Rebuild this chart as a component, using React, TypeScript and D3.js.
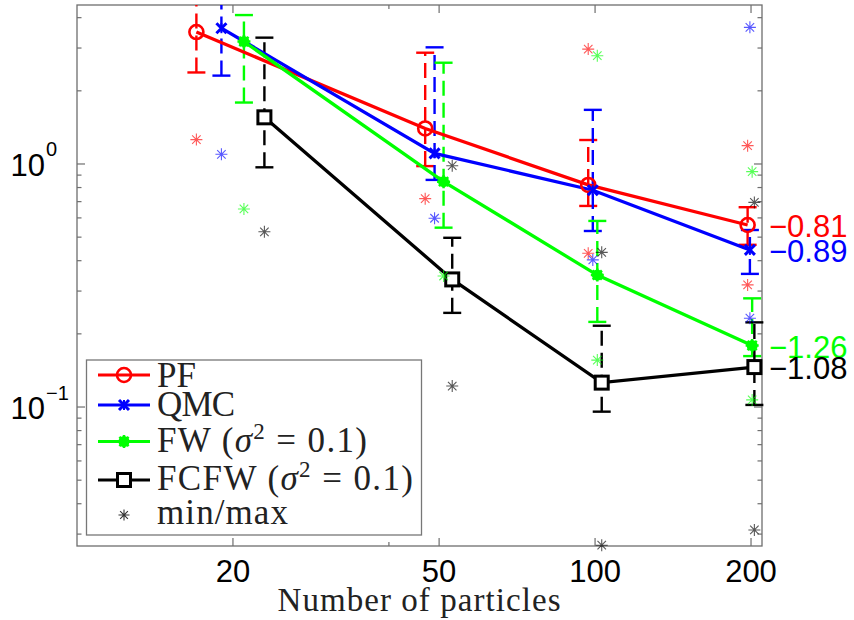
import React from "react";
import * as d3 from "d3";

const particleCounts = [20, 50, 100, 200];
const xOffsets = [-3, -1, 1, 3];
const seriesNames = ["PF", "QMC", "FW", "FCFW"];
const seriesColors = ["#ff0000", "#0000ff", "#00ff00", "#000000"];
const seriesMarkers = ["circle", "cross", "dot", "square"];

const pfMean = [3.49, 1.4, 0.82, 0.561];
const pfUpper = [5.6, 2.87, 1.255, 0.664];
const pfLower = [2.38, 0.98, 0.672, 0.465];
const pfMin = [1.26, 0.72, 0.429, 0.318];
const pfMax = [null, null, 2.97, 1.19];

const qmcMean = [3.62, 1.106, 0.78, 0.443];
const qmcUpper = [5.8, 3.02, 1.67, 0.535];
const qmcLower = [2.31, 0.86, 0.53, 0.353];
const qmcMin = [1.096, 0.598, 0.403, 0.232];
const qmcMax = [null, null, null, 3.65];

const fwMean = [3.19, 0.846, 0.349, 0.179];
const fwUpper = [4.1, 2.61, 0.583, 0.28];
const fwLower = [1.79, 0.547, 0.224, 0.162];
const fwMin = [0.653, 0.346, 0.156, 0.107];
const fwMax = [null, null, 2.79, 0.93];

const fcfwMean = [1.556, 0.335, 0.126, 0.146];
const fcfwUpper = [3.31, 0.497, 0.216, 0.223];
const fcfwLower = [0.969, 0.244, 0.0957, 0.102];
const fcfwMin = [0.526, 0.122, 0.027, 0.0312];
const fcfwMax = [null, 0.984, 0.433, 0.695];

const slopeLabels = ["\u22120.81", "\u22120.89", "\u22121.26", "\u22121.08"];
const xTickValues = [20, 50, 100, 200];
const xMinorTickValues = [40];
const yMajorTicks = [0.1, 1];
const yMajorLabels = ["\u22121", "0"];

const means = [pfMean, qmcMean, fwMean, fcfwMean];
const uppers = [pfUpper, qmcUpper, fwUpper, fcfwUpper];
const lowers = [pfLower, qmcLower, fwLower, fcfwLower];
const mins = [pfMin, qmcMin, fwMin, fcfwMin];
const maxs = [pfMax, qmcMax, fwMax, fcfwMax];

const W = 854;
const H = 620;
const L = 77;
const R = 762;
const T = 5;
const B = 546;
const axisColor = "#6e6e6e";

function starPath(cx: number, cy: number, r: number) {
  let d = "";
  for (let k = 0; k < 4; k++) {
    const a = (k * Math.PI) / 4;
    const dx = Math.cos(a) * r;
    const dy = Math.sin(a) * r;
    d += `M${cx - dx},${cy - dy}L${cx + dx},${cy + dy}`;
  }
  return d;
}

function Marker({ kind, x, y, color }: { kind: string; x: number; y: number; color: string }) {
  if (kind === "circle")
    return <circle cx={x} cy={y} r={7} fill="none" stroke={color} strokeWidth={2.6} />;
  if (kind === "cross")
    return (
      <g stroke={color} strokeWidth={3}>
        <path d={`M${x - 5},${y - 5}L${x + 5},${y + 5}M${x - 5},${y + 5}L${x + 5},${y - 5}`} />
        <path d={`M${x},${y - 5}L${x},${y + 5}`} strokeWidth={2} />
      </g>
    );
  if (kind === "dot")
    return (
      <g>
        <circle cx={x} cy={y} r={5.5} fill={color} />
        <path d={starPath(x, y, 6.5)} stroke={color} strokeWidth={2.5} />
      </g>
    );
  return <rect x={x - 6.5} y={y - 6.5} width={13} height={13} fill="white" stroke={color} strokeWidth={3} />;
}

export default function App() {
  const x = d3.scaleLog().domain([10, 210]).range([L, R]);
  const y = d3.scaleLog().domain([0.0268, 4.51]).range([B, T]);

  const yMinor: number[] = [];
  for (const dec of [0.01, 0.1, 1]) {
    for (let k = 2; k <= 9; k++) {
      const v = dec * k;
      if (v >= 0.0268 && v <= 4.51) yMinor.push(v);
    }
  }

  return (
    <svg width={W} height={H} style={{ position: "absolute", left: 0, top: 0, background: "white" }}>
      <defs>
        <clipPath id="plotclip">
          <rect x={L} y={T} width={R - L} height={B - T} />
        </clipPath>
      </defs>

      {/* axes box */}
      <rect x={L} y={T} width={R - L} height={B - T} fill="none" stroke={axisColor} strokeWidth={1.3} />

      {/* x ticks */}
      {xTickValues.map((v) => (
        <g key={"xt" + v} stroke={axisColor} strokeWidth={1.2}>
          <line x1={x(v)} x2={x(v)} y1={B} y2={B - 8} />
          <line x1={x(v)} x2={x(v)} y1={T} y2={T + 8} />
        </g>
      ))}
      {xMinorTickValues.map((v) => (
        <g key={"xm" + v} stroke={axisColor} strokeWidth={1.2}>
          <line x1={x(v)} x2={x(v)} y1={B} y2={B - 4} />
          <line x1={x(v)} x2={x(v)} y1={T} y2={T + 4} />
        </g>
      ))}
      {xTickValues.map((v) => (
        <text
          key={"xl" + v}
          x={x(v)}
          y={582}
          textAnchor="middle"
          fontFamily="Liberation Sans, Arial, sans-serif"
          fontSize={31}
          fill="#000"
        >
          {v}
        </text>
      ))}
      <text
        x={419}
        y={611}
        textAnchor="middle"
        fontFamily="Liberation Serif, Times New Roman, serif"
        fontSize={33}
        textLength={283}
        fill="#222"
      >
        Number of particles
      </text>

      {/* y ticks */}
      {yMajorTicks.map((v) => (
        <g key={"yt" + v} stroke={axisColor} strokeWidth={1.2}>
          <line x1={L} x2={L + 8} y1={y(v)} y2={y(v)} />
          <line x1={R} x2={R - 8} y1={y(v)} y2={y(v)} />
        </g>
      ))}
      {yMinor.map((v) => (
        <g key={"ym" + v} stroke={axisColor} strokeWidth={1.2}>
          <line x1={L} x2={L + 4.5} y1={y(v)} y2={y(v)} />
          <line x1={R} x2={R - 4.5} y1={y(v)} y2={y(v)} />
        </g>
      ))}
      {yMajorTicks.map((v, i) => (
        <g key={"yl" + v} fontFamily="Liberation Sans, Arial, sans-serif" fill="#000">
          <text x={45} y={y(v) + 12} textAnchor="end" fontSize={31}>
            10
          </text>
          <text x={46} y={y(v) - 7.5} textAnchor="start" fontSize={20}>
            {yMajorLabels[i]}
          </text>
        </g>
      ))}

      {/* error bars */}
      {means.map((_, s) => (
        <g key={"eb" + s} stroke={seriesColors[s]} strokeWidth={2.4} fill="none">
          {particleCounts.map((n, i) => {
            const xp = x(n + xOffsets[s]);
            const yu = y(uppers[s][i]);
            const yl = y(lowers[s][i]);
            return (
              <g key={i}>
                <line x1={xp} x2={xp} y1={yl} y2={yu} strokeDasharray="15 7" clipPath="url(#plotclip)" />
                {yu >= T && <line x1={xp - 9} x2={xp + 9} y1={yu} y2={yu} />}
                {yl <= B && <line x1={xp - 9} x2={xp + 9} y1={yl} y2={yl} />}
              </g>
            );
          })}
        </g>
      ))}

      {/* series lines */}
      {means.map((vals, s) => {
        const path = d3
          .line<number>()
          .x((_, i) => x(particleCounts[i] + xOffsets[s]))
          .y((d) => y(d))(vals);
        return <path key={"ln" + s} d={path || ""} fill="none" stroke={seriesColors[s]} strokeWidth={3.3} />;
      })}

      {/* markers */}
      {means.map((vals, s) => (
        <g key={"mk" + s}>
          {vals.map((v, i) => (
            <Marker key={i} kind={seriesMarkers[s]} x={x(particleCounts[i] + xOffsets[s])} y={y(v)} color={seriesColors[s]} />
          ))}
        </g>
      ))}

      {/* min / max stars */}
      {means.map((_, s) => (
        <g key={"st" + s} stroke={seriesColors[s]} strokeWidth={1.1} opacity={0.65}>
          {particleCounts.map((n, i) => {
            const xp = x(n + xOffsets[s]);
            const items: any[] = [];
            const mn = mins[s][i];
            const mx = maxs[s][i];
            if (mn != null) items.push(<path key="mn" d={starPath(xp, y(mn), 6)} />);
            if (mx != null) items.push(<path key="mx" d={starPath(xp, y(mx), 6)} />);
            return <g key={i}>{items}</g>;
          })}
        </g>
      ))}

      {/* slope labels */}
      {slopeLabels.map((t, s) => (
        <text
          key={"sl" + s}
          x={769}
          y={y(means[s][3]) + 12}
          fontFamily="Liberation Sans, Arial, sans-serif"
          fontSize={31}
          fill={seriesColors[s]}
        >
          {t}
        </text>
      ))}

      {/* legend */}
      <g>
        <rect x={86.5} y={360} width={335} height={175} fill="white" stroke="#777" strokeWidth={1.3} />
        {seriesNames.map((name, s) => {
          const rowY = [375, 405, 441.5, 480][s];
          return (
            <g key={"lg" + s}>
              <line x1={98} x2={150} y1={rowY} y2={rowY} stroke={seriesColors[s]} strokeWidth={3} />
              <Marker kind={seriesMarkers[s]} x={124} y={rowY} color={seriesColors[s]} />
            </g>
          );
        })}
        <path d={starPath(124, 515, 5.5)} stroke="#333" strokeWidth={1.1} />
        <g fontFamily="Liberation Serif, Times New Roman, serif" fontSize={35} fill="#222">
          <text x={157} y={387}>PF</text>
          <text x={157} y={416} textLength={78}>QMC</text>
          <text x={157} y={452} textLength={210}>
            FW (<tspan fontStyle="italic">σ</tspan>
            <tspan fontSize={23} dy={-13}>2</tspan>
            <tspan dy={13}> = 0.1)</tspan>
          </text>
          <text x={157} y={490} textLength={256}>
            FCFW (<tspan fontStyle="italic">σ</tspan>
            <tspan fontSize={23} dy={-13}>2</tspan>
            <tspan dy={13}> = 0.1)</tspan>
          </text>
          <text x={157} y={524} textLength={131}>min/max</text>
        </g>
      </g>
    </svg>
  );
}
